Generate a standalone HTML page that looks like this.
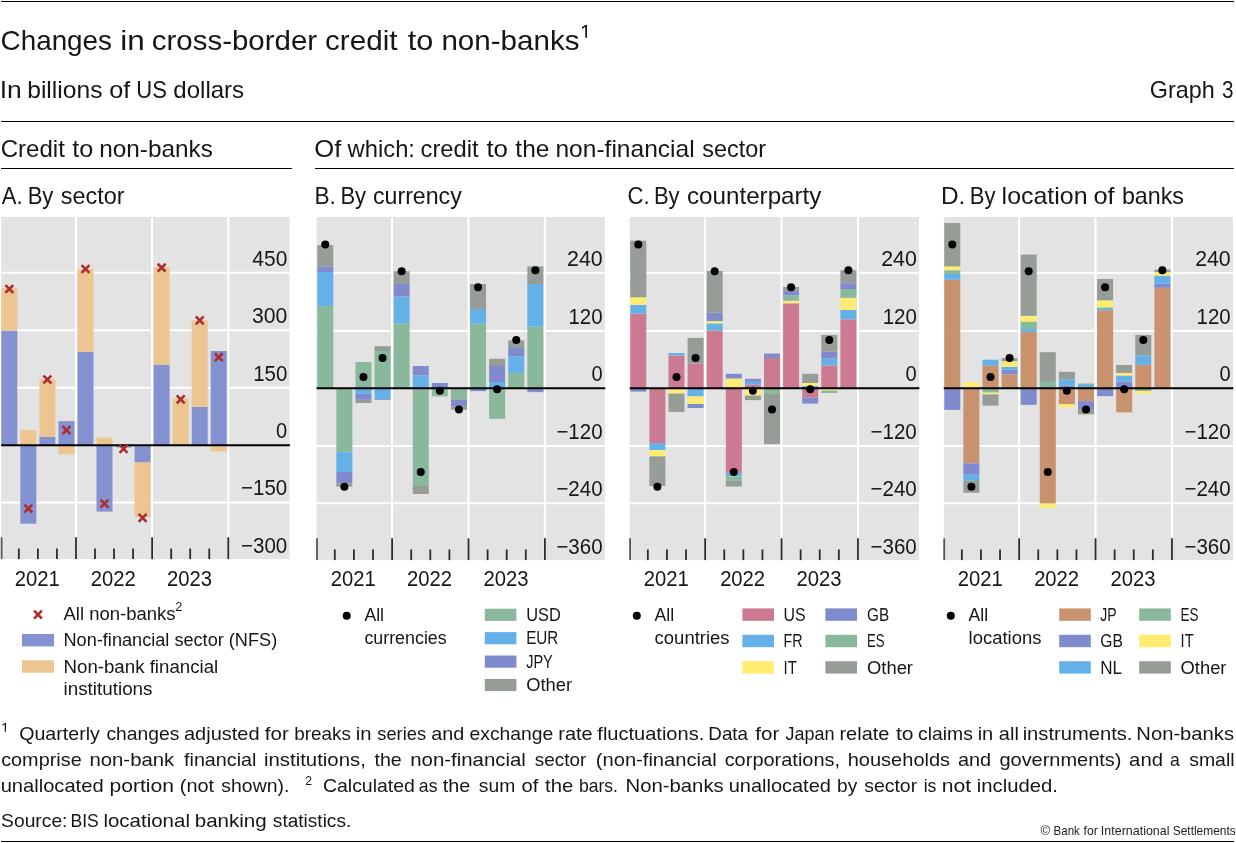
<!DOCTYPE html>
<html><head><meta charset="utf-8"><title>Graph 3</title>
<style>
html,body{margin:0;padding:0;background:#fff;}
svg{display:block;font-family:"Liberation Sans", sans-serif;will-change:transform;}
text{font-family:"Liberation Sans", sans-serif;}
</style></head><body>
<svg width="1236" height="843" viewBox="0 0 1236 843" shape-rendering="auto">
<rect x="0" y="0" width="1236" height="843" fill="#fff"/>
<rect x="1.00" y="1.00" width="1233.00" height="1.00" fill="#000" />
<text x="0.59" y="49.60" font-size="27.6" text-anchor="start" fill="#161616" textLength="111.42" lengthAdjust="spacingAndGlyphs" >Changes</text>
<text x="120.27" y="49.60" font-size="27.6" text-anchor="start" fill="#161616" textLength="24.49" lengthAdjust="spacingAndGlyphs" >in</text>
<text x="151.75" y="49.60" font-size="27.6" text-anchor="start" fill="#161616" textLength="165.44" lengthAdjust="spacingAndGlyphs" >cross-border</text>
<text x="325.04" y="49.60" font-size="27.6" text-anchor="start" fill="#161616" textLength="72.48" lengthAdjust="spacingAndGlyphs" >credit</text>
<text x="407.74" y="49.60" font-size="27.6" text-anchor="start" fill="#161616" textLength="25.55" lengthAdjust="spacingAndGlyphs" >to</text>
<text x="441.44" y="49.60" font-size="27.6" text-anchor="start" fill="#161616" textLength="138.03" lengthAdjust="spacingAndGlyphs" >non-banks</text>
<path d="M585.28 25.10H587.00V37.70H585.28V26.64L582.10 28.91L581.80 27.36Z" fill="#161616"/>
<text x="-0.39" y="98.35" font-size="23.2" text-anchor="start" fill="#161616" textLength="22.06" lengthAdjust="spacingAndGlyphs" >In</text>
<text x="27.21" y="98.35" font-size="23.2" text-anchor="start" fill="#161616" textLength="75.28" lengthAdjust="spacingAndGlyphs" >billions</text>
<text x="109.34" y="98.35" font-size="23.2" text-anchor="start" fill="#161616" textLength="21.02" lengthAdjust="spacingAndGlyphs" >of</text>
<text x="136.30" y="98.35" font-size="23.2" text-anchor="start" fill="#161616" textLength="30.62" lengthAdjust="spacingAndGlyphs" >US</text>
<text x="173.29" y="98.35" font-size="23.2" text-anchor="start" fill="#161616" textLength="70.88" lengthAdjust="spacingAndGlyphs" >dollars</text>
<text x="1149.83" y="98.40" font-size="23.2" text-anchor="start" fill="#161616" textLength="64.89" lengthAdjust="spacingAndGlyphs" >Graph</text>
<text x="1221.91" y="98.40" font-size="23.2" text-anchor="start" fill="#161616" textLength="11.50" lengthAdjust="spacingAndGlyphs" >3</text>
<rect x="1.00" y="121.00" width="1233.00" height="1.00" fill="#000" />
<text x="0.78" y="156.70" font-size="23.2" text-anchor="start" fill="#161616" textLength="64.10" lengthAdjust="spacingAndGlyphs" >Credit</text>
<text x="72.32" y="156.70" font-size="23.2" text-anchor="start" fill="#161616" textLength="21.04" lengthAdjust="spacingAndGlyphs" >to</text>
<text x="99.18" y="156.70" font-size="23.2" text-anchor="start" fill="#161616" textLength="113.70" lengthAdjust="spacingAndGlyphs" >non-banks</text>
<text x="314.29" y="156.70" font-size="23.2" text-anchor="start" fill="#161616" textLength="27.08" lengthAdjust="spacingAndGlyphs" >Of</text>
<text x="347.63" y="156.70" font-size="23.2" text-anchor="start" fill="#161616" textLength="67.33" lengthAdjust="spacingAndGlyphs" >which:</text>
<text x="420.59" y="156.70" font-size="23.2" text-anchor="start" fill="#161616" textLength="58.08" lengthAdjust="spacingAndGlyphs" >credit</text>
<text x="486.41" y="156.70" font-size="23.2" text-anchor="start" fill="#161616" textLength="21.58" lengthAdjust="spacingAndGlyphs" >to</text>
<text x="515.33" y="156.70" font-size="23.2" text-anchor="start" fill="#161616" textLength="34.06" lengthAdjust="spacingAndGlyphs" >the</text>
<text x="555.47" y="156.70" font-size="23.2" text-anchor="start" fill="#161616" textLength="139.17" lengthAdjust="spacingAndGlyphs" >non-financial</text>
<text x="702.35" y="156.70" font-size="23.2" text-anchor="start" fill="#161616" textLength="63.74" lengthAdjust="spacingAndGlyphs" >sector</text>
<rect x="1.00" y="168.00" width="291.00" height="1.00" fill="#000" />
<rect x="315.00" y="168.00" width="919.00" height="1.00" fill="#000" />
<text x="1.87" y="203.65" font-size="23.2" text-anchor="start" fill="#161616" textLength="20.82" lengthAdjust="spacingAndGlyphs" >A.</text>
<text x="27.66" y="203.65" font-size="23.2" text-anchor="start" fill="#161616" textLength="25.72" lengthAdjust="spacingAndGlyphs" >By</text>
<text x="60.75" y="203.65" font-size="23.2" text-anchor="start" fill="#161616" textLength="63.84" lengthAdjust="spacingAndGlyphs" >sector</text>
<text x="314.44" y="203.65" font-size="23.2" text-anchor="start" fill="#161616" textLength="21.43" lengthAdjust="spacingAndGlyphs" >B.</text>
<text x="340.41" y="203.65" font-size="23.2" text-anchor="start" fill="#161616" textLength="25.72" lengthAdjust="spacingAndGlyphs" >By</text>
<text x="373.02" y="203.65" font-size="23.2" text-anchor="start" fill="#161616" textLength="88.73" lengthAdjust="spacingAndGlyphs" >currency</text>
<text x="627.58" y="203.65" font-size="23.2" text-anchor="start" fill="#161616" textLength="22.04" lengthAdjust="spacingAndGlyphs" >C.</text>
<text x="653.91" y="203.65" font-size="23.2" text-anchor="start" fill="#161616" textLength="25.72" lengthAdjust="spacingAndGlyphs" >By</text>
<text x="686.97" y="203.65" font-size="23.2" text-anchor="start" fill="#161616" textLength="134.47" lengthAdjust="spacingAndGlyphs" >counterparty</text>
<text x="941.01" y="203.65" font-size="23.2" text-anchor="start" fill="#161616" textLength="24.31" lengthAdjust="spacingAndGlyphs" >D.</text>
<text x="969.71" y="203.65" font-size="23.2" text-anchor="start" fill="#161616" textLength="25.72" lengthAdjust="spacingAndGlyphs" >By</text>
<text x="1001.62" y="203.65" font-size="23.2" text-anchor="start" fill="#161616" textLength="86.00" lengthAdjust="spacingAndGlyphs" >location</text>
<text x="1093.44" y="203.65" font-size="23.2" text-anchor="start" fill="#161616" textLength="21.13" lengthAdjust="spacingAndGlyphs" >of</text>
<text x="1121.90" y="203.65" font-size="23.2" text-anchor="start" fill="#161616" textLength="62.04" lengthAdjust="spacingAndGlyphs" >banks</text>
<rect x="1.20" y="217.00" width="288.30" height="342.10" fill="#E3E3E3" />
<line x1="1.20" y1="272.80" x2="289.50" y2="272.80" stroke="#fff" stroke-width="2.0"/>
<line x1="1.20" y1="330.30" x2="289.50" y2="330.30" stroke="#fff" stroke-width="2.0"/>
<line x1="1.20" y1="387.80" x2="289.50" y2="387.80" stroke="#fff" stroke-width="2.0"/>
<line x1="1.20" y1="502.40" x2="289.50" y2="502.40" stroke="#fff" stroke-width="2.0"/>
<line x1="75.96" y1="217.00" x2="75.96" y2="559.10" stroke="#fff" stroke-width="2.0"/>
<line x1="152.12" y1="217.00" x2="152.12" y2="559.10" stroke="#fff" stroke-width="2.0"/>
<line x1="228.28" y1="217.00" x2="228.28" y2="559.10" stroke="#fff" stroke-width="2.0"/>
<rect x="1.32" y="330.60" width="16.00" height="114.70" fill="#8592D1" />
<rect x="1.32" y="288.30" width="16.00" height="42.30" fill="#ECC590" />
<rect x="20.36" y="430.10" width="16.00" height="15.20" fill="#ECC590" />
<rect x="20.36" y="445.30" width="16.00" height="78.40" fill="#8592D1" />
<rect x="39.40" y="436.90" width="16.00" height="8.40" fill="#8592D1" />
<rect x="39.40" y="379.30" width="16.00" height="57.60" fill="#ECC590" />
<rect x="58.44" y="421.10" width="16.00" height="24.20" fill="#8592D1" />
<rect x="58.44" y="445.30" width="16.00" height="9.10" fill="#ECC590" />
<rect x="77.48" y="352.00" width="16.00" height="93.30" fill="#8592D1" />
<rect x="77.48" y="269.20" width="16.00" height="82.80" fill="#ECC590" />
<rect x="96.52" y="437.60" width="16.00" height="7.70" fill="#ECC590" />
<rect x="96.52" y="445.30" width="16.00" height="66.30" fill="#8592D1" />
<rect x="115.56" y="444.00" width="16.00" height="1.30" fill="#ECC590" />
<rect x="115.56" y="445.30" width="16.00" height="2.10" fill="#8592D1" />
<rect x="134.60" y="445.30" width="16.00" height="17.20" fill="#8592D1" />
<rect x="134.60" y="462.50" width="16.00" height="54.50" fill="#ECC590" />
<rect x="153.64" y="364.80" width="16.00" height="80.50" fill="#8592D1" />
<rect x="153.64" y="267.20" width="16.00" height="97.60" fill="#ECC590" />
<rect x="172.68" y="398.60" width="16.00" height="46.70" fill="#ECC590" />
<rect x="191.72" y="406.90" width="16.00" height="38.40" fill="#8592D1" />
<rect x="191.72" y="320.40" width="16.00" height="86.50" fill="#ECC590" />
<rect x="210.76" y="351.00" width="16.00" height="94.30" fill="#8592D1" />
<rect x="210.76" y="445.30" width="16.00" height="6.10" fill="#ECC590" />
<line x1="1.20" y1="445.30" x2="289.90" y2="445.30" stroke="#000" stroke-width="2"/>
<line x1="1.60" y1="537.30" x2="1.60" y2="559.10" stroke="#555" stroke-width="1.8"/>
<line x1="18.84" y1="548.50" x2="18.84" y2="559.10" stroke="#2b2b2b" stroke-width="1.8"/>
<line x1="37.88" y1="548.50" x2="37.88" y2="559.10" stroke="#2b2b2b" stroke-width="1.8"/>
<line x1="56.92" y1="548.50" x2="56.92" y2="559.10" stroke="#2b2b2b" stroke-width="1.8"/>
<line x1="75.96" y1="537.30" x2="75.96" y2="559.10" stroke="#2b2b2b" stroke-width="1.8"/>
<line x1="95.00" y1="548.50" x2="95.00" y2="559.10" stroke="#2b2b2b" stroke-width="1.8"/>
<line x1="114.04" y1="548.50" x2="114.04" y2="559.10" stroke="#2b2b2b" stroke-width="1.8"/>
<line x1="133.08" y1="548.50" x2="133.08" y2="559.10" stroke="#2b2b2b" stroke-width="1.8"/>
<line x1="152.12" y1="537.30" x2="152.12" y2="559.10" stroke="#2b2b2b" stroke-width="1.8"/>
<line x1="171.16" y1="548.50" x2="171.16" y2="559.10" stroke="#2b2b2b" stroke-width="1.8"/>
<line x1="190.20" y1="548.50" x2="190.20" y2="559.10" stroke="#2b2b2b" stroke-width="1.8"/>
<line x1="209.24" y1="548.50" x2="209.24" y2="559.10" stroke="#2b2b2b" stroke-width="1.8"/>
<line x1="228.28" y1="537.30" x2="228.28" y2="559.10" stroke="#2b2b2b" stroke-width="1.8"/>
<path d="M5.37 285.05L13.27 292.95M5.37 292.95L13.27 285.05" stroke="#AE2B30" stroke-width="2.6" fill="none"/>
<path d="M24.41 504.65L32.31 512.55M24.41 512.55L32.31 504.65" stroke="#AE2B30" stroke-width="2.6" fill="none"/>
<path d="M43.45 375.55L51.35 383.45M43.45 383.45L51.35 375.55" stroke="#AE2B30" stroke-width="2.6" fill="none"/>
<path d="M62.49 426.15L70.39 434.05M62.49 434.05L70.39 426.15" stroke="#AE2B30" stroke-width="2.6" fill="none"/>
<path d="M81.53 265.05L89.43 272.95M81.53 272.95L89.43 265.05" stroke="#AE2B30" stroke-width="2.6" fill="none"/>
<path d="M100.57 499.65L108.47 507.55M100.57 507.55L108.47 499.65" stroke="#AE2B30" stroke-width="2.6" fill="none"/>
<path d="M119.61 444.95L127.51 452.85M119.61 452.85L127.51 444.95" stroke="#AE2B30" stroke-width="2.6" fill="none"/>
<path d="M138.65 513.95L146.55 521.85M138.65 521.85L146.55 513.95" stroke="#AE2B30" stroke-width="2.6" fill="none"/>
<path d="M157.69 263.75L165.59 271.65M157.69 271.65L165.59 263.75" stroke="#AE2B30" stroke-width="2.6" fill="none"/>
<path d="M176.73 395.45L184.63 403.35M176.73 403.35L184.63 395.45" stroke="#AE2B30" stroke-width="2.6" fill="none"/>
<path d="M195.77 316.45L203.67 324.35M195.77 324.35L203.67 316.45" stroke="#AE2B30" stroke-width="2.6" fill="none"/>
<path d="M214.81 353.25L222.71 361.15M214.81 361.15L222.71 353.25" stroke="#AE2B30" stroke-width="2.6" fill="none"/>
<text x="252.32" y="265.60" font-size="21.3" text-anchor="start" fill="#161616" textLength="35.00" lengthAdjust="spacingAndGlyphs" >450</text>
<text x="251.99" y="323.10" font-size="21.3" text-anchor="start" fill="#161616" textLength="35.33" lengthAdjust="spacingAndGlyphs" >300</text>
<text x="253.14" y="380.60" font-size="21.3" text-anchor="start" fill="#161616" textLength="34.16" lengthAdjust="spacingAndGlyphs" >150</text>
<text x="276.12" y="438.10" font-size="21.3" text-anchor="start" fill="#161616" textLength="11.17" lengthAdjust="spacingAndGlyphs" >0</text>
<text x="241.09" y="495.20" font-size="21.3" text-anchor="start" fill="#161616" textLength="46.21" lengthAdjust="spacingAndGlyphs" >−150</text>
<text x="241.09" y="552.60" font-size="21.3" text-anchor="start" fill="#161616" textLength="46.21" lengthAdjust="spacingAndGlyphs" >−300</text>
<text x="14.66" y="585.50" font-size="21.3" text-anchor="start" fill="#161616" textLength="45.01" lengthAdjust="spacingAndGlyphs" >2021</text>
<text x="90.83" y="585.50" font-size="21.3" text-anchor="start" fill="#161616" textLength="45.01" lengthAdjust="spacingAndGlyphs" >2022</text>
<text x="166.93" y="585.50" font-size="21.3" text-anchor="start" fill="#161616" textLength="45.01" lengthAdjust="spacingAndGlyphs" >2023</text>
<rect x="316.60" y="217.00" width="288.20" height="343.10" fill="#E3E3E3" />
<line x1="316.60" y1="273.00" x2="604.80" y2="273.00" stroke="#fff" stroke-width="2.0"/>
<line x1="316.60" y1="330.90" x2="604.80" y2="330.90" stroke="#fff" stroke-width="2.0"/>
<line x1="316.60" y1="445.90" x2="604.80" y2="445.90" stroke="#fff" stroke-width="2.0"/>
<line x1="316.60" y1="503.30" x2="604.80" y2="503.30" stroke="#fff" stroke-width="2.0"/>
<line x1="392.10" y1="217.00" x2="392.10" y2="560.10" stroke="#fff" stroke-width="2.0"/>
<line x1="468.50" y1="217.00" x2="468.50" y2="560.10" stroke="#fff" stroke-width="2.0"/>
<line x1="544.90" y1="217.00" x2="544.90" y2="560.10" stroke="#fff" stroke-width="2.0"/>
<rect x="317.25" y="306.10" width="16.00" height="82.20" fill="#8AB89D" />
<rect x="317.25" y="272.00" width="16.00" height="34.10" fill="#64B0E9" />
<rect x="317.25" y="266.40" width="16.00" height="5.60" fill="#808BCD" />
<rect x="317.25" y="245.10" width="16.00" height="21.30" fill="#969C96" />
<rect x="336.35" y="388.30" width="16.00" height="63.90" fill="#8AB89D" />
<rect x="336.35" y="452.20" width="16.00" height="19.80" fill="#64B0E9" />
<rect x="336.35" y="472.00" width="16.00" height="11.50" fill="#808BCD" />
<rect x="336.35" y="483.50" width="16.00" height="3.10" fill="#969C96" />
<rect x="355.45" y="362.00" width="16.00" height="26.30" fill="#8AB89D" />
<rect x="355.45" y="388.30" width="16.00" height="5.50" fill="#64B0E9" />
<rect x="355.45" y="393.80" width="16.00" height="6.00" fill="#808BCD" />
<rect x="355.45" y="399.80" width="16.00" height="3.20" fill="#969C96" />
<rect x="374.55" y="351.00" width="16.00" height="37.30" fill="#8AB89D" />
<rect x="374.55" y="346.20" width="16.00" height="4.80" fill="#969C96" />
<rect x="374.55" y="388.30" width="16.00" height="10.70" fill="#64B0E9" />
<rect x="374.55" y="399.00" width="16.00" height="0.80" fill="#808BCD" />
<rect x="393.65" y="323.40" width="16.00" height="64.90" fill="#8AB89D" />
<rect x="393.65" y="296.50" width="16.00" height="26.90" fill="#64B0E9" />
<rect x="393.65" y="284.00" width="16.00" height="12.50" fill="#808BCD" />
<rect x="393.65" y="271.20" width="16.00" height="12.80" fill="#969C96" />
<rect x="412.75" y="375.50" width="16.00" height="12.80" fill="#64B0E9" />
<rect x="412.75" y="366.00" width="16.00" height="9.50" fill="#808BCD" />
<rect x="412.75" y="388.30" width="16.00" height="97.70" fill="#8AB89D" />
<rect x="412.75" y="486.00" width="16.00" height="8.00" fill="#969C96" />
<rect x="431.85" y="383.00" width="16.00" height="5.30" fill="#808BCD" />
<rect x="431.85" y="388.30" width="16.00" height="8.10" fill="#8AB89D" />
<rect x="450.95" y="388.30" width="16.00" height="11.30" fill="#8AB89D" />
<rect x="450.95" y="399.60" width="16.00" height="6.70" fill="#808BCD" />
<rect x="450.95" y="406.30" width="16.00" height="3.40" fill="#969C96" />
<rect x="470.05" y="323.60" width="16.00" height="64.70" fill="#8AB89D" />
<rect x="470.05" y="309.10" width="16.00" height="14.50" fill="#64B0E9" />
<rect x="470.05" y="284.00" width="16.00" height="25.10" fill="#969C96" />
<rect x="470.05" y="388.30" width="16.00" height="2.80" fill="#808BCD" />
<rect x="489.15" y="382.00" width="16.00" height="6.30" fill="#64B0E9" />
<rect x="489.15" y="366.00" width="16.00" height="16.00" fill="#808BCD" />
<rect x="489.15" y="358.70" width="16.00" height="7.30" fill="#969C96" />
<rect x="489.15" y="388.30" width="16.00" height="30.50" fill="#8AB89D" />
<rect x="508.25" y="373.00" width="16.00" height="15.30" fill="#8AB89D" />
<rect x="508.25" y="356.20" width="16.00" height="16.80" fill="#64B0E9" />
<rect x="508.25" y="348.00" width="16.00" height="8.20" fill="#808BCD" />
<rect x="508.25" y="340.40" width="16.00" height="7.60" fill="#969C96" />
<rect x="527.35" y="326.60" width="16.00" height="61.70" fill="#8AB89D" />
<rect x="527.35" y="284.00" width="16.00" height="42.60" fill="#64B0E9" />
<rect x="527.35" y="266.40" width="16.00" height="17.60" fill="#969C96" />
<rect x="527.35" y="388.30" width="16.00" height="3.80" fill="#808BCD" />
<line x1="316.60" y1="388.30" x2="605.20" y2="388.30" stroke="#000" stroke-width="2"/>
<line x1="317.00" y1="538.30" x2="317.00" y2="560.10" stroke="#555" stroke-width="1.8"/>
<line x1="334.80" y1="549.50" x2="334.80" y2="560.10" stroke="#2b2b2b" stroke-width="1.8"/>
<line x1="353.90" y1="549.50" x2="353.90" y2="560.10" stroke="#2b2b2b" stroke-width="1.8"/>
<line x1="373.00" y1="549.50" x2="373.00" y2="560.10" stroke="#2b2b2b" stroke-width="1.8"/>
<line x1="392.10" y1="538.30" x2="392.10" y2="560.10" stroke="#2b2b2b" stroke-width="1.8"/>
<line x1="411.20" y1="549.50" x2="411.20" y2="560.10" stroke="#2b2b2b" stroke-width="1.8"/>
<line x1="430.30" y1="549.50" x2="430.30" y2="560.10" stroke="#2b2b2b" stroke-width="1.8"/>
<line x1="449.40" y1="549.50" x2="449.40" y2="560.10" stroke="#2b2b2b" stroke-width="1.8"/>
<line x1="468.50" y1="538.30" x2="468.50" y2="560.10" stroke="#2b2b2b" stroke-width="1.8"/>
<line x1="487.60" y1="549.50" x2="487.60" y2="560.10" stroke="#2b2b2b" stroke-width="1.8"/>
<line x1="506.70" y1="549.50" x2="506.70" y2="560.10" stroke="#2b2b2b" stroke-width="1.8"/>
<line x1="525.80" y1="549.50" x2="525.80" y2="560.10" stroke="#2b2b2b" stroke-width="1.8"/>
<line x1="544.90" y1="538.30" x2="544.90" y2="560.10" stroke="#2b2b2b" stroke-width="1.8"/>
<circle cx="325.25" cy="244.40" r="4" fill="#000"/>
<circle cx="344.35" cy="486.80" r="4" fill="#000"/>
<circle cx="363.45" cy="377.00" r="4" fill="#000"/>
<circle cx="382.55" cy="358.00" r="4" fill="#000"/>
<circle cx="401.65" cy="271.20" r="4" fill="#000"/>
<circle cx="420.75" cy="472.00" r="4" fill="#000"/>
<circle cx="439.85" cy="390.80" r="4" fill="#000"/>
<circle cx="458.95" cy="409.50" r="4" fill="#000"/>
<circle cx="478.05" cy="287.30" r="4" fill="#000"/>
<circle cx="497.15" cy="389.30" r="4" fill="#000"/>
<circle cx="516.25" cy="340.00" r="4" fill="#000"/>
<circle cx="535.35" cy="270.20" r="4" fill="#000"/>
<text x="567.03" y="265.80" font-size="21.3" text-anchor="start" fill="#161616" textLength="35.61" lengthAdjust="spacingAndGlyphs" >240</text>
<text x="568.44" y="323.70" font-size="21.3" text-anchor="start" fill="#161616" textLength="34.16" lengthAdjust="spacingAndGlyphs" >120</text>
<text x="591.42" y="381.10" font-size="21.3" text-anchor="start" fill="#161616" textLength="11.17" lengthAdjust="spacingAndGlyphs" >0</text>
<text x="556.39" y="438.70" font-size="21.3" text-anchor="start" fill="#161616" textLength="46.21" lengthAdjust="spacingAndGlyphs" >−120</text>
<text x="556.39" y="496.10" font-size="21.3" text-anchor="start" fill="#161616" textLength="46.21" lengthAdjust="spacingAndGlyphs" >−240</text>
<text x="556.39" y="553.60" font-size="21.3" text-anchor="start" fill="#161616" textLength="46.21" lengthAdjust="spacingAndGlyphs" >−360</text>
<text x="330.68" y="585.50" font-size="21.3" text-anchor="start" fill="#161616" textLength="45.01" lengthAdjust="spacingAndGlyphs" >2021</text>
<text x="407.09" y="585.50" font-size="21.3" text-anchor="start" fill="#161616" textLength="45.01" lengthAdjust="spacingAndGlyphs" >2022</text>
<text x="483.43" y="585.50" font-size="21.3" text-anchor="start" fill="#161616" textLength="45.01" lengthAdjust="spacingAndGlyphs" >2023</text>
<rect x="629.70" y="217.00" width="289.30" height="343.10" fill="#E3E3E3" />
<line x1="629.70" y1="273.00" x2="919.00" y2="273.00" stroke="#fff" stroke-width="2.0"/>
<line x1="629.70" y1="330.90" x2="919.00" y2="330.90" stroke="#fff" stroke-width="2.0"/>
<line x1="629.70" y1="445.90" x2="919.00" y2="445.90" stroke="#fff" stroke-width="2.0"/>
<line x1="629.70" y1="503.30" x2="919.00" y2="503.30" stroke="#fff" stroke-width="2.0"/>
<line x1="705.14" y1="217.00" x2="705.14" y2="560.10" stroke="#fff" stroke-width="2.0"/>
<line x1="781.54" y1="217.00" x2="781.54" y2="560.10" stroke="#fff" stroke-width="2.0"/>
<line x1="857.94" y1="217.00" x2="857.94" y2="560.10" stroke="#fff" stroke-width="2.0"/>
<rect x="630.29" y="313.60" width="16.00" height="74.70" fill="#CB7A92" />
<rect x="630.29" y="304.80" width="16.00" height="8.80" fill="#64B0E9" />
<rect x="630.29" y="297.30" width="16.00" height="7.50" fill="#FFEC70" />
<rect x="630.29" y="240.60" width="16.00" height="56.70" fill="#969C96" />
<rect x="630.29" y="388.30" width="16.00" height="3.30" fill="#808BCD" />
<rect x="649.39" y="388.30" width="16.00" height="54.80" fill="#CB7A92" />
<rect x="649.39" y="443.10" width="16.00" height="7.10" fill="#64B0E9" />
<rect x="649.39" y="450.20" width="16.00" height="6.20" fill="#FFEC70" />
<rect x="649.39" y="456.40" width="16.00" height="29.60" fill="#969C96" />
<rect x="668.49" y="355.50" width="16.00" height="32.80" fill="#CB7A92" />
<rect x="668.49" y="353.00" width="16.00" height="2.50" fill="#64B0E9" />
<rect x="668.49" y="388.30" width="16.00" height="5.30" fill="#FFEC70" />
<rect x="668.49" y="393.60" width="16.00" height="18.30" fill="#969C96" />
<rect x="687.59" y="363.50" width="16.00" height="24.80" fill="#CB7A92" />
<rect x="687.59" y="337.90" width="16.00" height="25.60" fill="#969C96" />
<rect x="687.59" y="388.30" width="16.00" height="8.10" fill="#64B0E9" />
<rect x="687.59" y="396.40" width="16.00" height="7.60" fill="#FFEC70" />
<rect x="687.59" y="404.00" width="16.00" height="4.00" fill="#808BCD" />
<rect x="706.69" y="330.40" width="16.00" height="57.90" fill="#CB7A92" />
<rect x="706.69" y="323.40" width="16.00" height="7.00" fill="#64B0E9" />
<rect x="706.69" y="321.10" width="16.00" height="2.30" fill="#FFEC70" />
<rect x="706.69" y="312.80" width="16.00" height="8.30" fill="#808BCD" />
<rect x="706.69" y="271.00" width="16.00" height="41.80" fill="#969C96" />
<rect x="725.79" y="378.50" width="16.00" height="9.80" fill="#FFEC70" />
<rect x="725.79" y="373.80" width="16.00" height="4.70" fill="#808BCD" />
<rect x="725.79" y="388.30" width="16.00" height="84.90" fill="#CB7A92" />
<rect x="725.79" y="473.20" width="16.00" height="3.30" fill="#64B0E9" />
<rect x="725.79" y="476.50" width="16.00" height="4.30" fill="#8AB89D" />
<rect x="725.79" y="480.80" width="16.00" height="5.70" fill="#969C96" />
<rect x="744.89" y="384.80" width="16.00" height="3.50" fill="#CB7A92" />
<rect x="744.89" y="381.80" width="16.00" height="3.00" fill="#64B0E9" />
<rect x="744.89" y="378.80" width="16.00" height="3.00" fill="#808BCD" />
<rect x="744.89" y="388.30" width="16.00" height="7.30" fill="#FFEC70" />
<rect x="744.89" y="395.60" width="16.00" height="4.50" fill="#969C96" />
<rect x="763.99" y="358.00" width="16.00" height="30.30" fill="#CB7A92" />
<rect x="763.99" y="353.50" width="16.00" height="4.50" fill="#808BCD" />
<rect x="763.99" y="388.30" width="16.00" height="5.50" fill="#8AB89D" />
<rect x="763.99" y="393.80" width="16.00" height="50.30" fill="#969C96" />
<rect x="783.09" y="303.30" width="16.00" height="85.00" fill="#CB7A92" />
<rect x="783.09" y="300.80" width="16.00" height="2.50" fill="#FFEC70" />
<rect x="783.09" y="295.30" width="16.00" height="5.50" fill="#8AB89D" />
<rect x="783.09" y="290.80" width="16.00" height="4.50" fill="#808BCD" />
<rect x="783.09" y="287.00" width="16.00" height="3.80" fill="#969C96" />
<rect x="802.19" y="386.00" width="16.00" height="2.30" fill="#64B0E9" />
<rect x="802.19" y="383.00" width="16.00" height="3.00" fill="#FFEC70" />
<rect x="802.19" y="373.80" width="16.00" height="9.20" fill="#969C96" />
<rect x="802.19" y="388.30" width="16.00" height="9.30" fill="#CB7A92" />
<rect x="802.19" y="397.60" width="16.00" height="6.00" fill="#808BCD" />
<rect x="821.29" y="365.50" width="16.00" height="22.80" fill="#CB7A92" />
<rect x="821.29" y="358.50" width="16.00" height="7.00" fill="#64B0E9" />
<rect x="821.29" y="351.70" width="16.00" height="6.80" fill="#808BCD" />
<rect x="821.29" y="334.90" width="16.00" height="16.80" fill="#969C96" />
<rect x="821.29" y="388.30" width="16.00" height="2.30" fill="#FFEC70" />
<rect x="821.29" y="390.60" width="16.00" height="2.40" fill="#8AB89D" />
<rect x="840.39" y="319.40" width="16.00" height="68.90" fill="#CB7A92" />
<rect x="840.39" y="309.80" width="16.00" height="9.60" fill="#64B0E9" />
<rect x="840.39" y="297.80" width="16.00" height="12.00" fill="#FFEC70" />
<rect x="840.39" y="289.00" width="16.00" height="8.80" fill="#8AB89D" />
<rect x="840.39" y="283.20" width="16.00" height="5.80" fill="#808BCD" />
<rect x="840.39" y="270.20" width="16.00" height="13.00" fill="#969C96" />
<line x1="629.70" y1="388.30" x2="919.40" y2="388.30" stroke="#000" stroke-width="2"/>
<line x1="630.10" y1="538.30" x2="630.10" y2="560.10" stroke="#555" stroke-width="1.8"/>
<line x1="647.84" y1="549.50" x2="647.84" y2="560.10" stroke="#2b2b2b" stroke-width="1.8"/>
<line x1="666.94" y1="549.50" x2="666.94" y2="560.10" stroke="#2b2b2b" stroke-width="1.8"/>
<line x1="686.04" y1="549.50" x2="686.04" y2="560.10" stroke="#2b2b2b" stroke-width="1.8"/>
<line x1="705.14" y1="538.30" x2="705.14" y2="560.10" stroke="#2b2b2b" stroke-width="1.8"/>
<line x1="724.24" y1="549.50" x2="724.24" y2="560.10" stroke="#2b2b2b" stroke-width="1.8"/>
<line x1="743.34" y1="549.50" x2="743.34" y2="560.10" stroke="#2b2b2b" stroke-width="1.8"/>
<line x1="762.44" y1="549.50" x2="762.44" y2="560.10" stroke="#2b2b2b" stroke-width="1.8"/>
<line x1="781.54" y1="538.30" x2="781.54" y2="560.10" stroke="#2b2b2b" stroke-width="1.8"/>
<line x1="800.64" y1="549.50" x2="800.64" y2="560.10" stroke="#2b2b2b" stroke-width="1.8"/>
<line x1="819.74" y1="549.50" x2="819.74" y2="560.10" stroke="#2b2b2b" stroke-width="1.8"/>
<line x1="838.84" y1="549.50" x2="838.84" y2="560.10" stroke="#2b2b2b" stroke-width="1.8"/>
<line x1="857.94" y1="538.30" x2="857.94" y2="560.10" stroke="#2b2b2b" stroke-width="1.8"/>
<circle cx="638.29" cy="244.40" r="4" fill="#000"/>
<circle cx="657.39" cy="486.80" r="4" fill="#000"/>
<circle cx="676.49" cy="377.00" r="4" fill="#000"/>
<circle cx="695.59" cy="358.00" r="4" fill="#000"/>
<circle cx="714.69" cy="271.20" r="4" fill="#000"/>
<circle cx="733.79" cy="472.00" r="4" fill="#000"/>
<circle cx="752.89" cy="390.80" r="4" fill="#000"/>
<circle cx="771.99" cy="409.50" r="4" fill="#000"/>
<circle cx="791.09" cy="287.30" r="4" fill="#000"/>
<circle cx="810.19" cy="389.30" r="4" fill="#000"/>
<circle cx="829.29" cy="340.00" r="4" fill="#000"/>
<circle cx="848.39" cy="270.20" r="4" fill="#000"/>
<text x="881.23" y="265.80" font-size="21.3" text-anchor="start" fill="#161616" textLength="35.61" lengthAdjust="spacingAndGlyphs" >240</text>
<text x="882.64" y="323.70" font-size="21.3" text-anchor="start" fill="#161616" textLength="34.16" lengthAdjust="spacingAndGlyphs" >120</text>
<text x="905.62" y="381.10" font-size="21.3" text-anchor="start" fill="#161616" textLength="11.17" lengthAdjust="spacingAndGlyphs" >0</text>
<text x="870.59" y="438.70" font-size="21.3" text-anchor="start" fill="#161616" textLength="46.21" lengthAdjust="spacingAndGlyphs" >−120</text>
<text x="870.59" y="496.10" font-size="21.3" text-anchor="start" fill="#161616" textLength="46.21" lengthAdjust="spacingAndGlyphs" >−240</text>
<text x="870.59" y="553.60" font-size="21.3" text-anchor="start" fill="#161616" textLength="46.21" lengthAdjust="spacingAndGlyphs" >−360</text>
<text x="643.72" y="585.50" font-size="21.3" text-anchor="start" fill="#161616" textLength="45.01" lengthAdjust="spacingAndGlyphs" >2021</text>
<text x="720.13" y="585.50" font-size="21.3" text-anchor="start" fill="#161616" textLength="45.01" lengthAdjust="spacingAndGlyphs" >2022</text>
<text x="796.47" y="585.50" font-size="21.3" text-anchor="start" fill="#161616" textLength="45.01" lengthAdjust="spacingAndGlyphs" >2023</text>
<rect x="943.80" y="217.00" width="289.10" height="343.10" fill="#E3E3E3" />
<line x1="943.80" y1="273.00" x2="1232.90" y2="273.00" stroke="#fff" stroke-width="2.0"/>
<line x1="943.80" y1="330.90" x2="1232.90" y2="330.90" stroke="#fff" stroke-width="2.0"/>
<line x1="943.80" y1="445.90" x2="1232.90" y2="445.90" stroke="#fff" stroke-width="2.0"/>
<line x1="943.80" y1="503.30" x2="1232.90" y2="503.30" stroke="#fff" stroke-width="2.0"/>
<line x1="1019.14" y1="217.00" x2="1019.14" y2="560.10" stroke="#fff" stroke-width="2.0"/>
<line x1="1095.54" y1="217.00" x2="1095.54" y2="560.10" stroke="#fff" stroke-width="2.0"/>
<line x1="1171.94" y1="217.00" x2="1171.94" y2="560.10" stroke="#fff" stroke-width="2.0"/>
<rect x="944.29" y="279.70" width="16.00" height="108.60" fill="#C8926E" />
<rect x="944.29" y="274.00" width="16.00" height="5.70" fill="#64B0E9" />
<rect x="944.29" y="270.20" width="16.00" height="3.80" fill="#8AB89D" />
<rect x="944.29" y="266.40" width="16.00" height="3.80" fill="#FFEC70" />
<rect x="944.29" y="223.00" width="16.00" height="43.40" fill="#969C96" />
<rect x="944.29" y="388.30" width="16.00" height="21.60" fill="#808BCD" />
<rect x="963.39" y="382.00" width="16.00" height="6.30" fill="#FFEC70" />
<rect x="963.39" y="388.30" width="16.00" height="75.20" fill="#C8926E" />
<rect x="963.39" y="463.50" width="16.00" height="11.20" fill="#808BCD" />
<rect x="963.39" y="474.70" width="16.00" height="6.10" fill="#64B0E9" />
<rect x="963.39" y="480.80" width="16.00" height="12.00" fill="#969C96" />
<rect x="982.49" y="365.50" width="16.00" height="22.80" fill="#C8926E" />
<rect x="982.49" y="359.70" width="16.00" height="5.80" fill="#64B0E9" />
<rect x="982.49" y="388.30" width="16.00" height="4.30" fill="#8AB89D" />
<rect x="982.49" y="392.60" width="16.00" height="1.80" fill="#FFEC70" />
<rect x="982.49" y="394.40" width="16.00" height="11.20" fill="#969C96" />
<rect x="1001.59" y="374.30" width="16.00" height="14.00" fill="#C8926E" />
<rect x="1001.59" y="369.80" width="16.00" height="4.50" fill="#808BCD" />
<rect x="1001.59" y="366.80" width="16.00" height="3.00" fill="#64B0E9" />
<rect x="1001.59" y="361.20" width="16.00" height="5.60" fill="#FFEC70" />
<rect x="1001.59" y="358.00" width="16.00" height="3.20" fill="#969C96" />
<rect x="1020.69" y="332.10" width="16.00" height="56.20" fill="#C8926E" />
<rect x="1020.69" y="329.10" width="16.00" height="3.00" fill="#64B0E9" />
<rect x="1020.69" y="321.60" width="16.00" height="7.50" fill="#8AB89D" />
<rect x="1020.69" y="315.80" width="16.00" height="5.80" fill="#FFEC70" />
<rect x="1020.69" y="254.60" width="16.00" height="61.20" fill="#969C96" />
<rect x="1020.69" y="388.30" width="16.00" height="16.60" fill="#808BCD" />
<rect x="1039.79" y="381.80" width="16.00" height="6.50" fill="#8AB89D" />
<rect x="1039.79" y="352.20" width="16.00" height="29.60" fill="#969C96" />
<rect x="1039.79" y="388.30" width="16.00" height="115.30" fill="#C8926E" />
<rect x="1039.79" y="503.60" width="16.00" height="4.30" fill="#FFEC70" />
<rect x="1058.89" y="385.50" width="16.00" height="2.80" fill="#808BCD" />
<rect x="1058.89" y="379.30" width="16.00" height="6.20" fill="#64B0E9" />
<rect x="1058.89" y="371.80" width="16.00" height="7.50" fill="#969C96" />
<rect x="1058.89" y="388.30" width="16.00" height="16.10" fill="#C8926E" />
<rect x="1058.89" y="404.40" width="16.00" height="3.20" fill="#FFEC70" />
<rect x="1077.99" y="385.00" width="16.00" height="3.30" fill="#64B0E9" />
<rect x="1077.99" y="383.50" width="16.00" height="1.50" fill="#8AB89D" />
<rect x="1077.99" y="388.30" width="16.00" height="12.80" fill="#C8926E" />
<rect x="1077.99" y="401.10" width="16.00" height="8.80" fill="#808BCD" />
<rect x="1077.99" y="409.90" width="16.00" height="4.40" fill="#969C96" />
<rect x="1097.09" y="310.30" width="16.00" height="78.00" fill="#C8926E" />
<rect x="1097.09" y="308.90" width="16.00" height="1.40" fill="#64B0E9" />
<rect x="1097.09" y="307.30" width="16.00" height="1.60" fill="#8AB89D" />
<rect x="1097.09" y="300.30" width="16.00" height="7.00" fill="#FFEC70" />
<rect x="1097.09" y="279.00" width="16.00" height="21.30" fill="#969C96" />
<rect x="1097.09" y="388.30" width="16.00" height="7.80" fill="#808BCD" />
<rect x="1116.19" y="381.80" width="16.00" height="6.50" fill="#808BCD" />
<rect x="1116.19" y="375.50" width="16.00" height="6.30" fill="#64B0E9" />
<rect x="1116.19" y="373.00" width="16.00" height="2.50" fill="#FFEC70" />
<rect x="1116.19" y="365.00" width="16.00" height="8.00" fill="#969C96" />
<rect x="1116.19" y="388.30" width="16.00" height="24.10" fill="#C8926E" />
<rect x="1135.29" y="364.80" width="16.00" height="23.50" fill="#C8926E" />
<rect x="1135.29" y="355.50" width="16.00" height="9.30" fill="#64B0E9" />
<rect x="1135.29" y="334.90" width="16.00" height="20.60" fill="#969C96" />
<rect x="1135.29" y="388.30" width="16.00" height="2.80" fill="#8AB89D" />
<rect x="1135.29" y="391.10" width="16.00" height="2.50" fill="#FFEC70" />
<rect x="1154.39" y="287.80" width="16.00" height="100.50" fill="#C8926E" />
<rect x="1154.39" y="283.60" width="16.00" height="4.20" fill="#808BCD" />
<rect x="1154.39" y="275.60" width="16.00" height="8.00" fill="#64B0E9" />
<rect x="1154.39" y="272.00" width="16.00" height="3.60" fill="#FFEC70" />
<rect x="1154.39" y="269.60" width="16.00" height="2.40" fill="#969C96" />
<line x1="943.80" y1="388.30" x2="1233.30" y2="388.30" stroke="#000" stroke-width="2"/>
<line x1="944.20" y1="538.30" x2="944.20" y2="560.10" stroke="#555" stroke-width="1.8"/>
<line x1="961.84" y1="549.50" x2="961.84" y2="560.10" stroke="#2b2b2b" stroke-width="1.8"/>
<line x1="980.94" y1="549.50" x2="980.94" y2="560.10" stroke="#2b2b2b" stroke-width="1.8"/>
<line x1="1000.04" y1="549.50" x2="1000.04" y2="560.10" stroke="#2b2b2b" stroke-width="1.8"/>
<line x1="1019.14" y1="538.30" x2="1019.14" y2="560.10" stroke="#2b2b2b" stroke-width="1.8"/>
<line x1="1038.24" y1="549.50" x2="1038.24" y2="560.10" stroke="#2b2b2b" stroke-width="1.8"/>
<line x1="1057.34" y1="549.50" x2="1057.34" y2="560.10" stroke="#2b2b2b" stroke-width="1.8"/>
<line x1="1076.44" y1="549.50" x2="1076.44" y2="560.10" stroke="#2b2b2b" stroke-width="1.8"/>
<line x1="1095.54" y1="538.30" x2="1095.54" y2="560.10" stroke="#2b2b2b" stroke-width="1.8"/>
<line x1="1114.64" y1="549.50" x2="1114.64" y2="560.10" stroke="#2b2b2b" stroke-width="1.8"/>
<line x1="1133.74" y1="549.50" x2="1133.74" y2="560.10" stroke="#2b2b2b" stroke-width="1.8"/>
<line x1="1152.84" y1="549.50" x2="1152.84" y2="560.10" stroke="#2b2b2b" stroke-width="1.8"/>
<line x1="1171.94" y1="538.30" x2="1171.94" y2="560.10" stroke="#2b2b2b" stroke-width="1.8"/>
<circle cx="952.29" cy="244.40" r="4" fill="#000"/>
<circle cx="971.39" cy="486.80" r="4" fill="#000"/>
<circle cx="990.49" cy="377.00" r="4" fill="#000"/>
<circle cx="1009.59" cy="358.00" r="4" fill="#000"/>
<circle cx="1028.69" cy="271.20" r="4" fill="#000"/>
<circle cx="1047.79" cy="472.00" r="4" fill="#000"/>
<circle cx="1066.89" cy="390.80" r="4" fill="#000"/>
<circle cx="1085.99" cy="409.50" r="4" fill="#000"/>
<circle cx="1105.09" cy="287.30" r="4" fill="#000"/>
<circle cx="1124.19" cy="389.30" r="4" fill="#000"/>
<circle cx="1143.29" cy="340.00" r="4" fill="#000"/>
<circle cx="1162.39" cy="270.20" r="4" fill="#000"/>
<text x="1195.13" y="265.80" font-size="21.3" text-anchor="start" fill="#161616" textLength="35.61" lengthAdjust="spacingAndGlyphs" >240</text>
<text x="1196.54" y="323.70" font-size="21.3" text-anchor="start" fill="#161616" textLength="34.16" lengthAdjust="spacingAndGlyphs" >120</text>
<text x="1219.52" y="381.10" font-size="21.3" text-anchor="start" fill="#161616" textLength="11.17" lengthAdjust="spacingAndGlyphs" >0</text>
<text x="1184.49" y="438.70" font-size="21.3" text-anchor="start" fill="#161616" textLength="46.21" lengthAdjust="spacingAndGlyphs" >−120</text>
<text x="1184.49" y="496.10" font-size="21.3" text-anchor="start" fill="#161616" textLength="46.21" lengthAdjust="spacingAndGlyphs" >−240</text>
<text x="1184.49" y="553.60" font-size="21.3" text-anchor="start" fill="#161616" textLength="46.21" lengthAdjust="spacingAndGlyphs" >−360</text>
<text x="957.72" y="585.50" font-size="21.3" text-anchor="start" fill="#161616" textLength="45.01" lengthAdjust="spacingAndGlyphs" >2021</text>
<text x="1034.13" y="585.50" font-size="21.3" text-anchor="start" fill="#161616" textLength="45.01" lengthAdjust="spacingAndGlyphs" >2022</text>
<text x="1110.47" y="585.50" font-size="21.3" text-anchor="start" fill="#161616" textLength="45.01" lengthAdjust="spacingAndGlyphs" >2023</text>
<path d="M34.05 610.65L41.95 618.5500000000001M34.05 618.5500000000001L41.95 610.65" stroke="#AE2B30" stroke-width="2.6" fill="none"/>
<text x="63.50" y="620.00" font-size="18.3" text-anchor="start" fill="#161616" textLength="112.10" lengthAdjust="spacingAndGlyphs" >All non-banks</text>
<text x="175.36" y="610.60" font-size="12.5" text-anchor="start" fill="#161616" textLength="7.08" lengthAdjust="spacingAndGlyphs" >2</text>
<rect x="22.00" y="634.00" width="32.00" height="12.40" fill="#8592D1" />
<text x="63.50" y="646.40" font-size="18.3" text-anchor="start" fill="#161616" textLength="213.70" lengthAdjust="spacingAndGlyphs" >Non-financial sector (NFS)</text>
<rect x="22.00" y="660.30" width="32.00" height="12.40" fill="#ECC590" />
<text x="63.50" y="672.80" font-size="18.3" text-anchor="start" fill="#161616" textLength="154.70" lengthAdjust="spacingAndGlyphs" >Non-bank financial</text>
<text x="63.50" y="694.80" font-size="18.3" text-anchor="start" fill="#161616" textLength="89.00" lengthAdjust="spacingAndGlyphs" >institutions</text>
<circle cx="346.7" cy="615.8" r="4" fill="#000"/>
<text x="364.40" y="620.60" font-size="18.3" text-anchor="start" fill="#161616" textLength="19.60" lengthAdjust="spacingAndGlyphs" >All</text>
<text x="364.40" y="643.90" font-size="18.3" text-anchor="start" fill="#161616" textLength="82.30" lengthAdjust="spacingAndGlyphs" >currencies</text>
<rect x="484.80" y="608.70" width="31.60" height="12.20" fill="#8AB89D" />
<text x="526.20" y="620.80" font-size="18.3" text-anchor="start" fill="#161616" textLength="34.60" lengthAdjust="spacingAndGlyphs" >USD</text>
<rect x="484.80" y="632.10" width="31.60" height="12.20" fill="#64B0E9" />
<text x="526.20" y="644.20" font-size="18.3" text-anchor="start" fill="#161616" textLength="32.10" lengthAdjust="spacingAndGlyphs" >EUR</text>
<rect x="484.80" y="655.50" width="31.60" height="12.20" fill="#808BCD" />
<text x="526.20" y="667.60" font-size="18.3" text-anchor="start" fill="#161616" textLength="26.60" lengthAdjust="spacingAndGlyphs" >JPY</text>
<rect x="484.80" y="678.90" width="31.60" height="12.20" fill="#969C96" />
<text x="526.20" y="691.00" font-size="18.3" text-anchor="start" fill="#161616" textLength="45.90" lengthAdjust="spacingAndGlyphs" >Other</text>
<circle cx="636.8" cy="615.8" r="4" fill="#000"/>
<text x="654.60" y="620.60" font-size="18.3" text-anchor="start" fill="#161616" textLength="19.60" lengthAdjust="spacingAndGlyphs" >All</text>
<text x="654.60" y="643.60" font-size="18.3" text-anchor="start" fill="#161616" textLength="75.00" lengthAdjust="spacingAndGlyphs" >countries</text>
<rect x="742.40" y="608.40" width="31.60" height="12.40" fill="#CB7A92" />
<text x="783.50" y="620.80" font-size="18.3" text-anchor="start" fill="#161616" textLength="22.10" lengthAdjust="spacingAndGlyphs" >US</text>
<rect x="742.40" y="634.80" width="31.60" height="12.40" fill="#64B0E9" />
<text x="783.50" y="647.20" font-size="18.3" text-anchor="start" fill="#161616" textLength="19.10" lengthAdjust="spacingAndGlyphs" >FR</text>
<rect x="742.40" y="661.20" width="31.60" height="12.40" fill="#FFEC70" />
<text x="783.50" y="673.60" font-size="18.3" text-anchor="start" fill="#161616" textLength="13.30" lengthAdjust="spacingAndGlyphs" >IT</text>
<rect x="825.40" y="608.40" width="31.60" height="12.40" fill="#808BCD" />
<text x="867.00" y="620.80" font-size="18.3" text-anchor="start" fill="#161616" textLength="22.10" lengthAdjust="spacingAndGlyphs" >GB</text>
<rect x="825.40" y="634.80" width="31.60" height="12.40" fill="#8AB89D" />
<text x="867.00" y="647.20" font-size="18.3" text-anchor="start" fill="#161616" textLength="17.60" lengthAdjust="spacingAndGlyphs" >ES</text>
<rect x="825.40" y="661.20" width="31.60" height="12.40" fill="#969C96" />
<text x="867.00" y="673.60" font-size="18.3" text-anchor="start" fill="#161616" textLength="46.00" lengthAdjust="spacingAndGlyphs" >Other</text>
<circle cx="950.8" cy="615.8" r="4" fill="#000"/>
<text x="968.60" y="620.60" font-size="18.3" text-anchor="start" fill="#161616" textLength="19.60" lengthAdjust="spacingAndGlyphs" >All</text>
<text x="968.60" y="643.60" font-size="18.3" text-anchor="start" fill="#161616" textLength="72.80" lengthAdjust="spacingAndGlyphs" >locations</text>
<rect x="1059.20" y="608.40" width="31.60" height="12.40" fill="#C8926E" />
<text x="1100.30" y="620.80" font-size="18.3" text-anchor="start" fill="#161616" textLength="16.30" lengthAdjust="spacingAndGlyphs" >JP</text>
<rect x="1059.20" y="634.80" width="31.60" height="12.40" fill="#808BCD" />
<text x="1100.30" y="647.20" font-size="18.3" text-anchor="start" fill="#161616" textLength="22.60" lengthAdjust="spacingAndGlyphs" >GB</text>
<rect x="1059.20" y="661.20" width="31.60" height="12.40" fill="#64B0E9" />
<text x="1100.30" y="673.60" font-size="18.3" text-anchor="start" fill="#161616" textLength="21.80" lengthAdjust="spacingAndGlyphs" >NL</text>
<rect x="1139.20" y="608.40" width="31.60" height="12.40" fill="#8AB89D" />
<text x="1180.60" y="620.80" font-size="18.3" text-anchor="start" fill="#161616" textLength="18.00" lengthAdjust="spacingAndGlyphs" >ES</text>
<rect x="1139.20" y="634.80" width="31.60" height="12.40" fill="#FFEC70" />
<text x="1180.60" y="647.20" font-size="18.3" text-anchor="start" fill="#161616" textLength="13.00" lengthAdjust="spacingAndGlyphs" >IT</text>
<rect x="1139.20" y="661.20" width="31.60" height="12.40" fill="#969C96" />
<text x="1180.60" y="673.60" font-size="18.3" text-anchor="start" fill="#161616" textLength="45.90" lengthAdjust="spacingAndGlyphs" >Other</text>
<path d="M4.75 723.10H6.00V731.70H4.75V724.23L2.50 725.76L2.20 724.63Z" fill="#161616"/>
<text x="19.17" y="739.60" font-size="18.5" text-anchor="start" fill="#161616" textLength="80.67" lengthAdjust="spacingAndGlyphs" >Quarterly</text>
<text x="106.48" y="739.60" font-size="18.5" text-anchor="start" fill="#161616" textLength="72.81" lengthAdjust="spacingAndGlyphs" >changes</text>
<text x="183.95" y="739.60" font-size="18.5" text-anchor="start" fill="#161616" textLength="75.64" lengthAdjust="spacingAndGlyphs" >adjusted</text>
<text x="264.81" y="739.60" font-size="18.5" text-anchor="start" fill="#161616" textLength="23.93" lengthAdjust="spacingAndGlyphs" >for</text>
<text x="294.28" y="739.60" font-size="18.5" text-anchor="start" fill="#161616" textLength="56.60" lengthAdjust="spacingAndGlyphs" >breaks</text>
<text x="355.84" y="739.60" font-size="18.5" text-anchor="start" fill="#161616" textLength="15.77" lengthAdjust="spacingAndGlyphs" >in</text>
<text x="377.29" y="739.60" font-size="18.5" text-anchor="start" fill="#161616" textLength="48.77" lengthAdjust="spacingAndGlyphs" >series</text>
<text x="431.36" y="739.60" font-size="18.5" text-anchor="start" fill="#161616" textLength="33.02" lengthAdjust="spacingAndGlyphs" >and</text>
<text x="469.58" y="739.60" font-size="18.5" text-anchor="start" fill="#161616" textLength="83.68" lengthAdjust="spacingAndGlyphs" >exchange</text>
<text x="558.38" y="739.60" font-size="18.5" text-anchor="start" fill="#161616" textLength="34.31" lengthAdjust="spacingAndGlyphs" >rate</text>
<text x="597.32" y="739.60" font-size="18.5" text-anchor="start" fill="#161616" textLength="106.91" lengthAdjust="spacingAndGlyphs" >fluctuations.</text>
<text x="708.36" y="739.60" font-size="18.5" text-anchor="start" fill="#161616" textLength="39.64" lengthAdjust="spacingAndGlyphs" >Data</text>
<text x="755.31" y="739.60" font-size="18.5" text-anchor="start" fill="#161616" textLength="23.93" lengthAdjust="spacingAndGlyphs" >for</text>
<text x="785.42" y="739.60" font-size="18.5" text-anchor="start" fill="#161616" textLength="49.05" lengthAdjust="spacingAndGlyphs" >Japan</text>
<text x="839.47" y="739.60" font-size="18.5" text-anchor="start" fill="#161616" textLength="49.91" lengthAdjust="spacingAndGlyphs" >relate</text>
<text x="895.99" y="739.60" font-size="18.5" text-anchor="start" fill="#161616" textLength="17.59" lengthAdjust="spacingAndGlyphs" >to</text>
<text x="918.08" y="739.60" font-size="18.5" text-anchor="start" fill="#161616" textLength="54.82" lengthAdjust="spacingAndGlyphs" >claims</text>
<text x="977.65" y="739.60" font-size="18.5" text-anchor="start" fill="#161616" textLength="15.65" lengthAdjust="spacingAndGlyphs" >in</text>
<text x="998.85" y="739.60" font-size="18.5" text-anchor="start" fill="#161616" textLength="19.98" lengthAdjust="spacingAndGlyphs" >all</text>
<text x="1022.65" y="739.60" font-size="18.5" text-anchor="start" fill="#161616" textLength="109.79" lengthAdjust="spacingAndGlyphs" >instruments.</text>
<text x="1136.34" y="739.60" font-size="18.5" text-anchor="start" fill="#161616" textLength="97.69" lengthAdjust="spacingAndGlyphs" >Non-banks</text>
<text x="1.16" y="765.90" font-size="18.5" text-anchor="start" fill="#161616" textLength="80.53" lengthAdjust="spacingAndGlyphs" >comprise</text>
<text x="89.45" y="765.90" font-size="18.5" text-anchor="start" fill="#161616" textLength="84.82" lengthAdjust="spacingAndGlyphs" >non-bank</text>
<text x="184.02" y="765.90" font-size="18.5" text-anchor="start" fill="#161616" textLength="72.40" lengthAdjust="spacingAndGlyphs" >financial</text>
<text x="264.04" y="765.90" font-size="18.5" text-anchor="start" fill="#161616" textLength="101.79" lengthAdjust="spacingAndGlyphs" >institutions,</text>
<text x="374.50" y="765.90" font-size="18.5" text-anchor="start" fill="#161616" textLength="27.27" lengthAdjust="spacingAndGlyphs" >the</text>
<text x="410.25" y="765.90" font-size="18.5" text-anchor="start" fill="#161616" textLength="115.62" lengthAdjust="spacingAndGlyphs" >non-financial</text>
<text x="534.77" y="765.90" font-size="18.5" text-anchor="start" fill="#161616" textLength="51.54" lengthAdjust="spacingAndGlyphs" >sector</text>
<text x="595.75" y="765.90" font-size="18.5" text-anchor="start" fill="#161616" textLength="121.00" lengthAdjust="spacingAndGlyphs" >(non-financial</text>
<text x="724.65" y="765.90" font-size="18.5" text-anchor="start" fill="#161616" textLength="115.44" lengthAdjust="spacingAndGlyphs" >corporations,</text>
<text x="847.71" y="765.90" font-size="18.5" text-anchor="start" fill="#161616" textLength="102.41" lengthAdjust="spacingAndGlyphs" >households</text>
<text x="957.95" y="765.90" font-size="18.5" text-anchor="start" fill="#161616" textLength="33.23" lengthAdjust="spacingAndGlyphs" >and</text>
<text x="999.46" y="765.90" font-size="18.5" text-anchor="start" fill="#161616" textLength="121.97" lengthAdjust="spacingAndGlyphs" >governments)</text>
<text x="1129.14" y="765.90" font-size="18.5" text-anchor="start" fill="#161616" textLength="33.87" lengthAdjust="spacingAndGlyphs" >and</text>
<text x="1170.09" y="765.90" font-size="18.5" text-anchor="start" fill="#161616" textLength="9.77" lengthAdjust="spacingAndGlyphs" >a</text>
<text x="1189.16" y="765.90" font-size="18.5" text-anchor="start" fill="#161616" textLength="45.44" lengthAdjust="spacingAndGlyphs" >small</text>
<text x="0.69" y="792.30" font-size="18.5" text-anchor="start" fill="#161616" textLength="102.90" lengthAdjust="spacingAndGlyphs" >unallocated</text>
<text x="109.51" y="792.30" font-size="18.5" text-anchor="start" fill="#161616" textLength="64.49" lengthAdjust="spacingAndGlyphs" >portion</text>
<text x="179.77" y="792.30" font-size="18.5" text-anchor="start" fill="#161616" textLength="34.28" lengthAdjust="spacingAndGlyphs" >(not</text>
<text x="221.36" y="792.30" font-size="18.5" text-anchor="start" fill="#161616" textLength="67.91" lengthAdjust="spacingAndGlyphs" >shown).</text>
<text x="322.91" y="792.30" font-size="18.5" text-anchor="start" fill="#161616" textLength="92.04" lengthAdjust="spacingAndGlyphs" >Calculated</text>
<text x="418.86" y="792.30" font-size="18.5" text-anchor="start" fill="#161616" textLength="18.56" lengthAdjust="spacingAndGlyphs" >as</text>
<text x="442.70" y="792.30" font-size="18.5" text-anchor="start" fill="#161616" textLength="27.48" lengthAdjust="spacingAndGlyphs" >the</text>
<text x="478.86" y="792.30" font-size="18.5" text-anchor="start" fill="#161616" textLength="36.41" lengthAdjust="spacingAndGlyphs" >sum</text>
<text x="521.45" y="792.30" font-size="18.5" text-anchor="start" fill="#161616" textLength="16.82" lengthAdjust="spacingAndGlyphs" >of</text>
<text x="545.09" y="792.30" font-size="18.5" text-anchor="start" fill="#161616" textLength="28.21" lengthAdjust="spacingAndGlyphs" >the</text>
<text x="578.90" y="792.30" font-size="18.5" text-anchor="start" fill="#161616" textLength="39.07" lengthAdjust="spacingAndGlyphs" >bars.</text>
<text x="625.53" y="792.30" font-size="18.5" text-anchor="start" fill="#161616" textLength="98.20" lengthAdjust="spacingAndGlyphs" >Non-banks</text>
<text x="728.70" y="792.30" font-size="18.5" text-anchor="start" fill="#161616" textLength="102.18" lengthAdjust="spacingAndGlyphs" >unallocated</text>
<text x="837.07" y="792.30" font-size="18.5" text-anchor="start" fill="#161616" textLength="20.17" lengthAdjust="spacingAndGlyphs" >by</text>
<text x="864.16" y="792.30" font-size="18.5" text-anchor="start" fill="#161616" textLength="52.96" lengthAdjust="spacingAndGlyphs" >sector</text>
<text x="923.73" y="792.30" font-size="18.5" text-anchor="start" fill="#161616" textLength="12.69" lengthAdjust="spacingAndGlyphs" >is</text>
<text x="941.77" y="792.30" font-size="18.5" text-anchor="start" fill="#161616" textLength="29.32" lengthAdjust="spacingAndGlyphs" >not</text>
<text x="976.74" y="792.30" font-size="18.5" text-anchor="start" fill="#161616" textLength="81.11" lengthAdjust="spacingAndGlyphs" >included.</text>
<text x="305.18" y="784.90" font-size="12.5" text-anchor="start" fill="#161616" textLength="6.84" lengthAdjust="spacingAndGlyphs" >2</text>
<text x="1.13" y="827.20" font-size="18.5" text-anchor="start" fill="#161616" textLength="66.33" lengthAdjust="spacingAndGlyphs" >Source:</text>
<text x="70.52" y="827.20" font-size="18.5" text-anchor="start" fill="#161616" textLength="28.33" lengthAdjust="spacingAndGlyphs" >BIS</text>
<text x="103.42" y="827.20" font-size="18.5" text-anchor="start" fill="#161616" textLength="86.55" lengthAdjust="spacingAndGlyphs" >locational</text>
<text x="194.78" y="827.20" font-size="18.5" text-anchor="start" fill="#161616" textLength="71.95" lengthAdjust="spacingAndGlyphs" >banking</text>
<text x="272.87" y="827.20" font-size="18.5" text-anchor="start" fill="#161616" textLength="78.37" lengthAdjust="spacingAndGlyphs" >statistics.</text>
<text x="1040.60" y="835.00" font-size="12.1" text-anchor="start" fill="#222" textLength="9.60" lengthAdjust="spacingAndGlyphs" >©</text>
<text x="1053.62" y="835.00" font-size="12.1" text-anchor="start" fill="#222" textLength="26.20" lengthAdjust="spacingAndGlyphs" >Bank</text>
<text x="1083.53" y="835.00" font-size="12.1" text-anchor="start" fill="#222" textLength="14.17" lengthAdjust="spacingAndGlyphs" >for</text>
<text x="1100.85" y="835.00" font-size="12.1" text-anchor="start" fill="#222" textLength="68.69" lengthAdjust="spacingAndGlyphs" >International</text>
<text x="1172.76" y="835.00" font-size="12.1" text-anchor="start" fill="#222" textLength="62.97" lengthAdjust="spacingAndGlyphs" >Settlements</text>
<rect x="1.00" y="841.00" width="1233.00" height="1.00" fill="#000" />
</svg></body></html>
